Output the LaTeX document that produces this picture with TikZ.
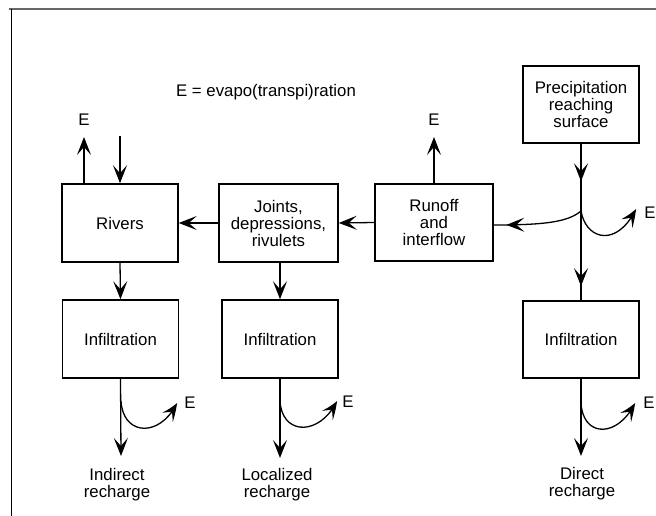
\documentclass[tikz,border=0pt]{standalone}
\usepackage{fontspec}
\setmainfont{Liberation Sans}
\usetikzlibrary{arrows.meta,decorations.markings,bending}
\begin{document}
\begin{tikzpicture}[x=1pt,y=-1pt,
  font=\fontsize{16.8}{17}\selectfont,
  boxnode/.style={draw,line width=1.5pt,minimum width=116pt,minimum height=77pt,inner sep=0pt,align=center},
  lbl/.style={inner sep=0pt,align=center},
  tip/.style={-{Stealth[length=18pt,width=14pt,inset=8pt,bend]}},
  conn/.style={line width=1.3pt},
  midarrow/.style={postaction={decorate,decoration={markings,mark=at position #1 with {\arrow{Stealth[length=18pt,width=14pt,inset=8pt]}}}}}]
\useasboundingbox (0,0) rectangle (656,516);
\fill[white] (0,0) rectangle (656,516);
% frame
\draw[line width=2pt,gray!80!black] (9,9.5) -- (656,9.5);
\draw[line width=1.5pt] (11.5,9) -- (11.5,516);

% boxes
\node[boxnode] (precip) at (581,104.5) {Precipitation\\reaching\\surface};
\node[boxnode,minimum width=118pt] (runoff) at (434,222.5) {Runoff\\and\\interflow};
\node[boxnode,minimum width=119pt,minimum height=78pt] (joints) at (278.5,223) {Joints,\\depressions,\\rivulets};
\node[boxnode,minimum height=78pt] (rivers) at (120,223) {Rivers};
\node[boxnode,minimum height=78pt] (inf1) at (120.5,339) {Infiltration};
\node[boxnode,minimum height=78pt] (inf2) at (280,339) {Infiltration};
\node[boxnode] (inf3) at (581,339.5) {Infiltration};

% labels
\node[lbl] (title) at (266,92) {E = evapo(transpi)ration};
\node[lbl] (eR) at (84,120) {E};
\node[lbl] (eO) at (434,120) {E};
\node[lbl] (eJ) at (650,213) {E};
\node[lbl] (e1) at (190,403) {E};
\node[lbl] (e2) at (348,402) {E};
\node[lbl] (e3) at (649,403) {E};
\node[lbl] (ind) at (117,485) {Indirect\\recharge};
\node[lbl] (loc) at (277,485) {Localized\\recharge};
\node[lbl] (dir) at (582,484) {Direct\\recharge};

% coordinates
\coordinate (rin) at (120,136);
\coordinate (eRt) at (84,137);
\coordinate (eOt) at (434,137);
\coordinate (junc) at (581,211);
\coordinate (eJt) at (636,209);
\coordinate (s1) at (121,401);
\coordinate (t1) at (121,456);
\coordinate (e1t) at (177,403);
\coordinate (s2) at (280,401);
\coordinate (t2) at (280,458);
\coordinate (e2t) at (337,401);
\coordinate (s3) at (581,403);
\coordinate (t3) at (581,456);
\coordinate (e3t) at (635,403);

% top connectors
\draw[conn,tip] (rin) -- (rivers.north);
\draw[conn,tip] (rivers.north -| eRt) -- (eRt);
\draw[conn,tip] (runoff.north) -- (eOt);
\draw[conn,tip] (joints.west) -- (rivers.east);
\draw[conn,tip] (runoff.west) -- (joints.east);
\draw[conn,midarrow=0.24,midarrow=0.91] (precip.south) -- (inf3.north);
\draw[conn,midarrow=0.86] (junc) .. controls (568,222) and (545,225) .. (runoff.east |- 0,225);
\draw[conn,tip] (junc) .. controls (586,240) and (617,248) .. (eJt);

% lower connectors
\draw[conn,tip] (rivers.south) -- (inf1.north);
\draw[conn,tip] (joints.south -| inf2.north) -- (inf2.north);
\draw[conn,tip] (inf1.south) -- (t1);
\draw[conn,tip] (inf2.south) -- (t2);
\draw[conn,tip] (inf3.south) -- (t3);
\draw[conn,tip] (s1) .. controls (123,436) and (160,438) .. (e1t);
\draw[conn,tip] (s2) .. controls (282,436) and (320,436) .. (e2t);
\draw[conn,tip] (s3) .. controls (583,438) and (618,438) .. (e3t);
\end{tikzpicture}
\end{document}
